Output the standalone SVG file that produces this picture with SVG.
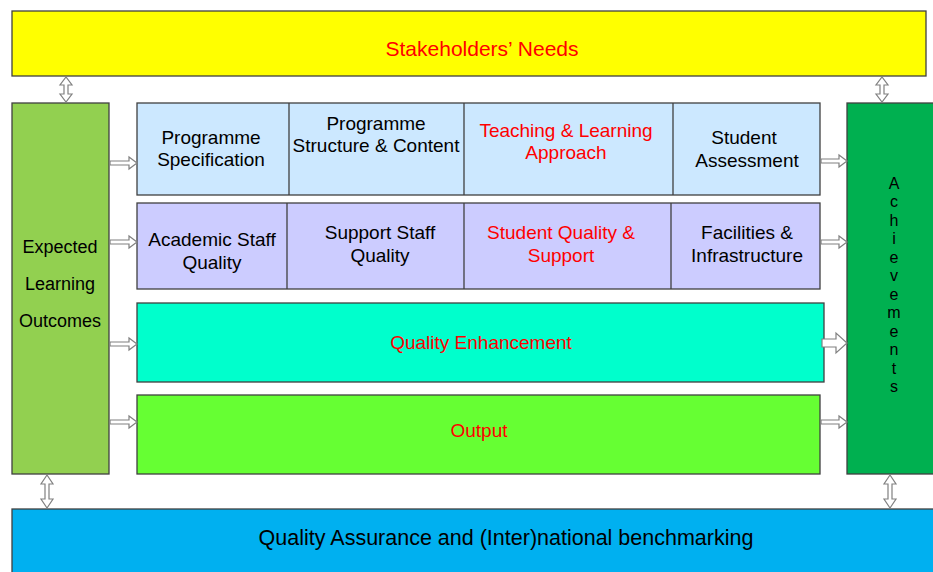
<svg xmlns="http://www.w3.org/2000/svg" width="933" height="572" viewBox="0 0 933 572">
<style>
text{font-family:"Liberation Sans",Arial,sans-serif;font-size:19px;text-anchor:middle;fill:#000}
.r{fill:#FF0000}
.s{font-size:18px}
.v{font-size:16px}
.box{stroke:#404040;stroke-width:1.3}
.arr{fill:#fff;stroke:#808080;stroke-width:1.2}
</style>
<rect width="933" height="572" fill="#fff"/>
<g id="stakeholders"><rect class="box" x="12" y="11" width="914" height="65" fill="#FFFF00"/><text class="r" x="482" y="56" style="font-size:21px">Stakeholders’ Needs</text></g>
<g id="elo"><rect class="box" x="12" y="103" width="97" height="371" fill="#92D050"/><text class="s" x="60" y="253">Expected</text><text class="s" x="60" y="290">Learning</text><text class="s" x="60" y="327">Outcomes</text></g>
<g id="achievements"><rect class="box" x="847" y="103" width="90" height="371" fill="#00B050"/>
<text class="v" x="894" y="189">A</text><text class="v" x="894" y="207">c</text><text class="v" x="894" y="226">h</text><text class="v" x="894" y="244">i</text><text class="v" x="894" y="263">e</text><text class="v" x="894" y="281">v</text><text class="v" x="894" y="300">e</text><text class="v" x="894" y="318">m</text><text class="v" x="894" y="337">e</text><text class="v" x="894" y="355">n</text><text class="v" x="894" y="374">t</text><text class="v" x="894" y="392">s</text></g>
<g id="qa"><rect class="box" x="12" y="509" width="925" height="66" fill="#00B0F0"/><text x="506" y="545" style="font-size:21.5px">Quality Assurance and (Inter)national benchmarking</text></g>
<g id="row1">
<rect class="box" x="137" y="103" width="683" height="92" fill="#CCE8FF"/>
<line class="box" x1="289" y1="103" x2="289" y2="195"/><line class="box" x1="464" y1="103" x2="464" y2="195"/><line class="box" x1="673" y1="103" x2="673" y2="195"/>
<text x="211" y="144">Programme</text><text x="211" y="166">Specification</text>
<text x="376" y="130">Programme</text><text x="376" y="152">Structure &amp; Content</text>
<text class="r" x="566" y="137">Teaching &amp; Learning</text><text class="r" x="566" y="159">Approach</text>
<text x="744" y="144">Student</text><text x="747" y="167">Assessment</text>
</g>
<g id="row2">
<rect class="box" x="137" y="203" width="683" height="86" fill="#CCCCFF"/>
<line class="box" x1="287" y1="203" x2="287" y2="289"/><line class="box" x1="464" y1="203" x2="464" y2="289"/><line class="box" x1="671" y1="203" x2="671" y2="289"/>
<text x="212" y="246">Academic Staff</text><text x="212" y="269">Quality</text>
<text x="380" y="239">Support Staff</text><text x="380" y="262">Quality</text>
<text class="r" x="561" y="239">Student Quality &amp;</text><text class="r" x="561" y="262">Support</text>
<text x="747" y="239">Facilities &amp;</text><text x="747" y="262">Infrastructure</text>
</g>
<g id="qe"><rect class="box" x="137" y="303" width="687" height="79" fill="#00FFCC"/><text class="r" x="481" y="349">Quality Enhancement</text></g>
<g id="output"><rect class="box" x="137" y="395" width="683" height="79" fill="#66FF33"/><text class="r" x="479" y="437">Output</text></g>
<g id="connectors">
<path class="arr" d="M110,161 L129,161 L129,157 L137,163 L129,169 L129,165 L110,165 Z"/>
<path class="arr" d="M110,240 L129,240 L129,236 L137,242 L129,248 L129,244 L110,244 Z"/>
<path class="arr" d="M110,342 L129,342 L129,338 L137,344 L129,350 L129,346 L110,346 Z"/>
<path class="arr" d="M110,420 L129,420 L129,416 L137,422 L129,428 L129,424 L110,424 Z"/>
<path class="arr" d="M821,159 L839,159 L839,155 L847,161 L839,167 L839,163 L821,163 Z"/>
<path class="arr" d="M821,240 L839,240 L839,236 L847,242 L839,248 L839,244 L821,244 Z"/>
<path class="arr" d="M822,339 L836,339 L836,333 L847,343 L836,353 L836,347 L822,347 Z"/>
<path class="arr" d="M821,420 L839,420 L839,416 L847,422 L839,428 L839,424 L821,424 Z"/>
<path class="arr" d="M64,85 L64,94 L60,94 L66,102 L72,94 L68,94 L68,85 L72,85 L66,77 L60,85 Z"/>
<path class="arr" d="M880,85 L880,94 L876,94 L882,102 L888,94 L884,94 L884,85 L888,85 L882,77 L876,85 Z"/>
<path class="arr" d="M45,484 L45,499 L41,499 L47,508 L53,499 L49,499 L49,484 L53,484 L47,475 L41,484 Z"/>
<path class="arr" d="M888,484 L888,499 L884,499 L890,508 L896,499 L892,499 L892,484 L896,484 L890,475 L884,484 Z"/>
</g>
</svg>
